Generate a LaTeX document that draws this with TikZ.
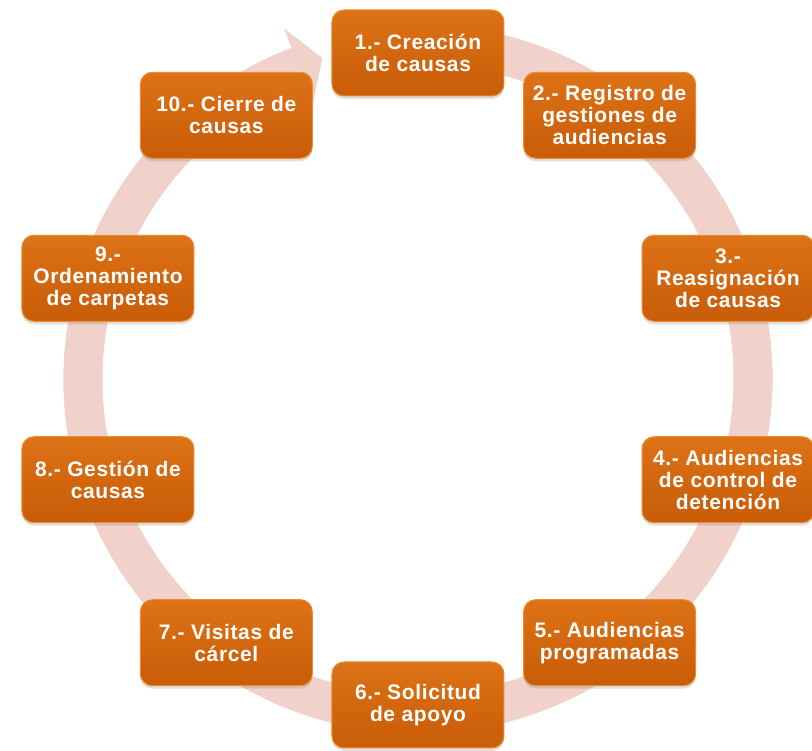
\documentclass[tikz,border=0pt]{standalone}
\usepackage{fontspec}
\setmainfont{Liberation Sans}
\usetikzlibrary{shadows}
\definecolor{naranja}{RGB}{200,92,8}
\definecolor{naranjaclaro}{RGB}{222,114,22}
\definecolor{borde}{RGB}{236,140,45}
\definecolor{aro}{RGB}{240,210,203}

\begin{document}
\begin{tikzpicture}[x=1pt,y=1pt,
    paso/.style={rectangle, rounded corners=12pt, minimum width=172pt, minimum height=86pt,
      top color=naranjaclaro, bottom color=naranja, draw=borde, line width=1pt,
      drop shadow={opacity=0.25, shadow xshift=0pt, shadow yshift=-3pt},
      text=white, align=center, inner sep=2pt,
      font=\addfontfeatures{LetterSpace=3}\fontsize{21}{22}\selectfont\bfseries}]
    \useasboundingbox (-418,-372) rectangle (394,379);

    \fill[aro, draw=white, line width=0.8pt]
      (80:355) arc[start angle=80, end angle=-249, radius=355]
      -- (-249:377) -- (-253.5:335) -- (-249:293) -- (-249:315)
      arc[start angle=-249, end angle=80, radius=315] -- cycle;

    \node[paso] (p1) at (90:326) {1.- Creación\\de causas};
    \node[paso] (p2) at (54:326) {2.- Registro de\\gestiones de\\audiencias};
    \node[paso] (p3) at (18:326) {3.-\\Reasignación\\de causas};
    \node[paso] (p4) at (-18:326) {4.- Audiencias\\de control de\\detención};
    \node[paso] (p5) at (-54:326) {5.- Audiencias\\programadas};
    \node[paso] (p6) at (-90:326) {6.- Solicitud\\de apoyo};
    \node[paso] (p7) at (-126:326) {7.- Visitas de\\cárcel};
    \node[paso] (p8) at (-162:326) {8.- Gestión de\\causas};
    \node[paso] (p9) at (162:326) {9.-\\Ordenamiento\\de carpetas};
    \node[paso] (p10) at (126:326) {10.- Cierre de\\causas};
\end{tikzpicture}
\end{document}
